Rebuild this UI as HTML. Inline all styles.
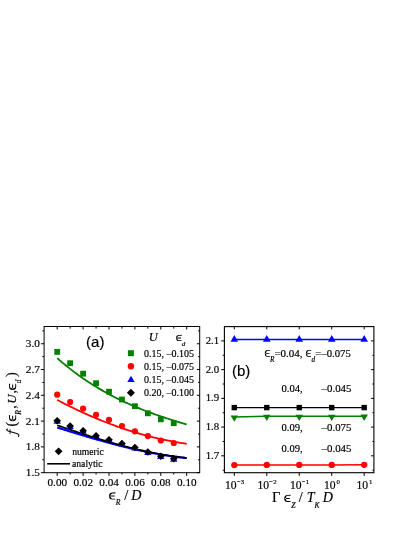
<!DOCTYPE html><html><head><meta charset="utf-8"><style>html,body{margin:0;padding:0;background:#fff;}svg{display:block;will-change:transform;opacity:0.999}text{font-family:"Liberation Serif",serif;fill:#000;stroke:#000;stroke-width:0.18px}.s{font-family:"Liberation Sans",sans-serif}.i{font-style:italic}</style></head><body>
<svg width="415" height="537" viewBox="0 0 415 537">
<rect width="415" height="537" fill="#fff"/>
<polyline points="57.20,427.47 58.50,427.88 59.79,428.29 61.09,428.70 62.38,429.11 63.68,429.51 64.97,429.92 66.27,430.32 67.56,430.73 68.86,431.13 70.15,431.53 71.45,431.93 72.74,432.33 74.03,432.73 75.33,433.12 76.62,433.52 77.92,433.91 79.22,434.31 80.51,434.70 81.81,435.09 83.10,435.47 84.40,435.86 85.69,436.25 86.98,436.63 88.28,437.01 89.58,437.39 90.87,437.77 92.16,438.14 93.46,438.52 94.75,438.89 96.05,439.26 97.34,439.63 98.64,440.00 99.94,440.36 101.23,440.73 102.53,441.09 103.82,441.44 105.12,441.80 106.41,442.15 107.71,442.51 109.00,442.86 110.30,443.20 111.59,443.55 112.89,443.89 114.18,444.23 115.47,444.57 116.77,444.90 118.06,445.24 119.36,445.57 120.66,445.89 121.95,446.22 123.25,446.54 124.54,446.86 125.84,447.17 127.13,447.49 128.43,447.80 129.72,448.11 131.01,448.41 132.31,448.71 133.61,449.01 134.90,449.31 136.19,449.60 137.49,449.89 138.78,450.17 140.08,450.46 141.38,450.74 142.67,451.01 143.97,451.29 145.26,451.55 146.56,451.82 147.85,452.08 149.15,452.34 150.44,452.60 151.74,452.85 153.03,453.10 154.32,453.34 155.62,453.59 156.92,453.82 158.21,454.06 159.50,454.29 160.80,454.51 162.10,454.74 163.39,454.95 164.69,455.17 165.98,455.38 167.28,455.58 168.57,455.79 169.87,455.98 171.16,456.18 172.45,456.37 173.75,456.55 175.05,456.74 176.34,456.91 177.63,457.09 178.93,457.25 180.23,457.42 181.52,457.58 182.81,457.73 184.11,457.88 185.41,458.03 186.70,458.17" fill="none" stroke="#0000ff" stroke-width="2.1" stroke-linecap="butt"/>
<polyline points="57.20,425.28 58.50,425.73 59.79,426.17 61.09,426.61 62.38,427.06 63.68,427.50 64.97,427.94 66.27,428.38 67.56,428.82 68.86,429.25 70.15,429.69 71.45,430.12 72.74,430.56 74.03,430.99 75.33,431.42 76.62,431.85 77.92,432.28 79.22,432.70 80.51,433.13 81.81,433.55 83.10,433.97 84.40,434.39 85.69,434.81 86.98,435.22 88.28,435.63 89.58,436.05 90.87,436.46 92.16,436.86 93.46,437.27 94.75,437.67 96.05,438.07 97.34,438.47 98.64,438.87 99.94,439.26 101.23,439.65 102.53,440.04 103.82,440.43 105.12,440.82 106.41,441.20 107.71,441.58 109.00,441.95 110.30,442.33 111.59,442.70 112.89,443.07 114.18,443.43 115.47,443.79 116.77,444.15 118.06,444.51 119.36,444.86 120.66,445.21 121.95,445.56 123.25,445.90 124.54,446.25 125.84,446.58 127.13,446.92 128.43,447.25 129.72,447.58 131.01,447.90 132.31,448.22 133.61,448.54 134.90,448.85 136.19,449.16 137.49,449.47 138.78,449.77 140.08,450.07 141.38,450.36 142.67,450.65 143.97,450.94 145.26,451.22 146.56,451.50 147.85,451.77 149.15,452.04 150.44,452.31 151.74,452.57 153.03,452.83 154.32,453.08 155.62,453.33 156.92,453.57 158.21,453.81 159.50,454.05 160.80,454.28 162.10,454.51 163.39,454.73 164.69,454.95 165.98,455.16 167.28,455.36 168.57,455.57 169.87,455.76 171.16,455.96 172.45,456.14 173.75,456.33 175.05,456.50 176.34,456.68 177.63,456.84 178.93,457.01 180.23,457.16 181.52,457.31 182.81,457.46 184.11,457.60 185.41,457.73 186.70,457.86" fill="none" stroke="#000" stroke-width="1.7" stroke-linecap="butt"/>
<polyline points="57.20,399.89 58.50,400.57 59.79,401.25 61.09,401.93 62.38,402.60 63.68,403.27 64.97,403.93 66.27,404.58 67.56,405.23 68.86,405.88 70.15,406.52 71.45,407.16 72.74,407.79 74.03,408.42 75.33,409.04 76.62,409.66 77.92,410.27 79.22,410.88 80.51,411.48 81.81,412.08 83.10,412.67 84.40,413.26 85.69,413.84 86.98,414.42 88.28,414.99 89.58,415.56 90.87,416.13 92.16,416.69 93.46,417.24 94.75,417.79 96.05,418.33 97.34,418.87 98.64,419.41 99.94,419.94 101.23,420.46 102.53,420.98 103.82,421.49 105.12,422.00 106.41,422.51 107.71,423.01 109.00,423.50 110.30,423.99 111.59,424.47 112.89,424.95 114.18,425.43 115.47,425.90 116.77,426.36 118.06,426.82 119.36,427.27 120.66,427.72 121.95,428.17 123.25,428.61 124.54,429.04 125.84,429.47 127.13,429.89 128.43,430.31 129.72,430.73 131.01,431.13 132.31,431.54 133.61,431.94 134.90,432.33 136.19,432.72 137.49,433.10 138.78,433.48 140.08,433.85 141.38,434.22 142.67,434.58 143.97,434.94 145.26,435.29 146.56,435.64 147.85,435.98 149.15,436.32 150.44,436.65 151.74,436.97 153.03,437.29 154.32,437.61 155.62,437.92 156.92,438.22 158.21,438.52 159.50,438.82 160.80,439.11 162.10,439.39 163.39,439.67 164.69,439.95 165.98,440.21 167.28,440.48 168.57,440.74 169.87,440.99 171.16,441.24 172.45,441.48 173.75,441.71 175.05,441.95 176.34,442.17 177.63,442.39 178.93,442.61 180.23,442.82 181.52,443.02 182.81,443.22 184.11,443.42 185.41,443.61 186.70,443.79" fill="none" stroke="#ff0000" stroke-width="1.8" stroke-linecap="butt"/>
<polyline points="57.20,358.16 58.50,359.29 59.79,360.41 61.09,361.51 62.38,362.60 63.68,363.68 64.97,364.75 66.27,365.80 67.56,366.84 68.86,367.87 70.15,368.88 71.45,369.89 72.74,370.88 74.03,371.86 75.33,372.83 76.62,373.78 77.92,374.73 79.22,375.66 80.51,376.58 81.81,377.49 83.10,378.39 84.40,379.28 85.69,380.16 86.98,381.02 88.28,381.88 89.58,382.73 90.87,383.56 92.16,384.39 93.46,385.20 94.75,386.00 96.05,386.80 97.34,387.58 98.64,388.36 99.94,389.12 101.23,389.88 102.53,390.63 103.82,391.36 105.12,392.09 106.41,392.81 107.71,393.52 109.00,394.22 110.30,394.91 111.59,395.60 112.89,396.27 114.18,396.94 115.47,397.60 116.77,398.25 118.06,398.89 119.36,399.53 120.66,400.15 121.95,400.77 123.25,401.38 124.54,401.99 125.84,402.59 127.13,403.18 128.43,403.76 129.72,404.33 131.01,404.90 132.31,405.46 133.61,406.02 134.90,406.57 136.19,407.11 137.49,407.65 138.78,408.18 140.08,408.70 141.38,409.22 142.67,409.73 143.97,410.24 145.26,410.74 146.56,411.23 147.85,411.72 149.15,412.21 150.44,412.69 151.74,413.16 153.03,413.63 154.32,414.09 155.62,414.55 156.92,415.01 158.21,415.46 159.50,415.91 160.80,416.35 162.10,416.79 163.39,417.22 164.69,417.65 165.98,418.08 167.28,418.50 168.57,418.92 169.87,419.34 171.16,419.75 172.45,420.16 173.75,420.56 175.05,420.97 176.34,421.37 177.63,421.77 178.93,422.16 180.23,422.55 181.52,422.94 182.81,423.33 184.11,423.72 185.41,424.10 186.70,424.48" fill="none" stroke="#008000" stroke-width="1.8" stroke-linecap="butt"/>
<path d="M57.20,417.50L60.90,423.70L53.50,423.70Z" fill="#0000ff"/>
<path d="M70.15,422.70L73.85,428.90L66.45,428.90Z" fill="#0000ff"/>
<path d="M83.10,427.50L86.80,433.70L79.40,433.70Z" fill="#0000ff"/>
<path d="M96.05,432.40L99.75,438.60L92.35,438.60Z" fill="#0000ff"/>
<path d="M109.00,436.40L112.70,442.60L105.30,442.60Z" fill="#0000ff"/>
<path d="M121.95,440.20L125.65,446.40L118.25,446.40Z" fill="#0000ff"/>
<path d="M134.90,444.20L138.60,450.40L131.20,450.40Z" fill="#0000ff"/>
<path d="M147.85,448.70L151.55,454.90L144.15,454.90Z" fill="#0000ff"/>
<path d="M160.80,452.90L164.50,459.10L157.10,459.10Z" fill="#0000ff"/>
<path d="M173.75,455.50L177.45,461.70L170.05,461.70Z" fill="#0000ff"/>
<rect x="54.30" y="349.00" width="5.8" height="5.8" fill="#008000"/>
<rect x="67.25" y="360.30" width="5.8" height="5.8" fill="#008000"/>
<rect x="80.20" y="370.80" width="5.8" height="5.8" fill="#008000"/>
<rect x="93.15" y="380.30" width="5.8" height="5.8" fill="#008000"/>
<rect x="106.10" y="388.80" width="5.8" height="5.8" fill="#008000"/>
<rect x="119.05" y="396.60" width="5.8" height="5.8" fill="#008000"/>
<rect x="132.00" y="403.30" width="5.8" height="5.8" fill="#008000"/>
<rect x="144.95" y="410.40" width="5.8" height="5.8" fill="#008000"/>
<rect x="157.90" y="416.40" width="5.8" height="5.8" fill="#008000"/>
<rect x="170.85" y="420.30" width="5.8" height="5.8" fill="#008000"/>
<circle cx="57.20" cy="394.70" r="3.1" fill="#ff0000"/>
<circle cx="70.15" cy="402.00" r="3.1" fill="#ff0000"/>
<circle cx="83.10" cy="408.50" r="3.1" fill="#ff0000"/>
<circle cx="96.05" cy="414.80" r="3.1" fill="#ff0000"/>
<circle cx="109.00" cy="419.80" r="3.1" fill="#ff0000"/>
<circle cx="121.95" cy="426.10" r="3.1" fill="#ff0000"/>
<circle cx="134.90" cy="431.30" r="3.1" fill="#ff0000"/>
<circle cx="147.85" cy="436.10" r="3.1" fill="#ff0000"/>
<circle cx="160.80" cy="440.50" r="3.1" fill="#ff0000"/>
<circle cx="173.75" cy="443.00" r="3.1" fill="#ff0000"/>
<path d="M57.20,417.00L61.00,420.80L57.20,424.60L53.40,420.80Z" fill="#000"/>
<path d="M70.15,422.20L73.95,426.00L70.15,429.80L66.35,426.00Z" fill="#000"/>
<path d="M83.10,427.00L86.90,430.80L83.10,434.60L79.30,430.80Z" fill="#000"/>
<path d="M96.05,431.90L99.85,435.70L96.05,439.50L92.25,435.70Z" fill="#000"/>
<path d="M109.00,435.90L112.80,439.70L109.00,443.50L105.20,439.70Z" fill="#000"/>
<path d="M121.95,439.70L125.75,443.50L121.95,447.30L118.15,443.50Z" fill="#000"/>
<path d="M134.90,443.70L138.70,447.50L134.90,451.30L131.10,447.50Z" fill="#000"/>
<path d="M147.85,448.20L151.65,452.00L147.85,455.80L144.05,452.00Z" fill="#000"/>
<path d="M160.80,452.40L164.60,456.20L160.80,460.00L157.00,456.20Z" fill="#000"/>
<path d="M173.75,455.00L177.55,458.80L173.75,462.60L169.95,458.80Z" fill="#000"/>
<rect x="44.1" y="326.5" width="155.6" height="146.2" fill="none" stroke="#000" stroke-width="1"/>
<path d="M57.20,472.7v3.2M57.20,326.5v3.0M70.15,472.7v1.8M70.15,326.5v2.1M83.10,472.7v3.2M83.10,326.5v3.0M96.05,472.7v1.8M96.05,326.5v2.1M109.00,472.7v3.2M109.00,326.5v3.0M121.95,472.7v1.8M121.95,326.5v2.1M134.90,472.7v3.2M134.90,326.5v3.0M147.85,472.7v1.8M147.85,326.5v2.1M160.80,472.7v3.2M160.80,326.5v3.0M173.75,472.7v1.8M173.75,326.5v2.1M186.70,472.7v3.2M186.70,326.5v3.0M44.1,472.68h-3.2M199.7,472.68h-2.8160000000000003M44.1,459.78h-1.8M199.7,459.78h-1.584M44.1,446.89h-3.2M199.7,446.89h-2.8160000000000003M44.1,434.00h-1.8M199.7,434.00h-1.584M44.1,421.11h-3.2M199.7,421.11h-2.8160000000000003M44.1,408.21h-1.8M199.7,408.21h-1.584M44.1,395.32h-3.2M199.7,395.32h-2.8160000000000003M44.1,382.43h-1.8M199.7,382.43h-1.584M44.1,369.53h-3.2M199.7,369.53h-2.8160000000000003M44.1,356.64h-1.8M199.7,356.64h-1.584M44.1,343.75h-3.2M199.7,343.75h-2.8160000000000003M44.1,330.86h-1.8M199.7,330.86h-1.584" stroke="#000" stroke-width="1" fill="none"/>
<text x="39.9" y="347.15" font-size="11.3" text-anchor="end">3.0</text>
<text x="39.9" y="372.93" font-size="11.3" text-anchor="end">2.7</text>
<text x="39.9" y="398.72" font-size="11.3" text-anchor="end">2.4</text>
<text x="39.9" y="424.50" font-size="11.3" text-anchor="end">2.1</text>
<text x="39.9" y="450.29" font-size="11.3" text-anchor="end">1.8</text>
<text x="39.9" y="476.07" font-size="11.3" text-anchor="end">1.5</text>
<text x="57.30" y="486.0" font-size="11.2" text-anchor="middle">0.00</text>
<text x="83.20" y="486.0" font-size="11.2" text-anchor="middle">0.02</text>
<text x="109.10" y="486.0" font-size="11.2" text-anchor="middle">0.04</text>
<text x="135.00" y="486.0" font-size="11.2" text-anchor="middle">0.06</text>
<text x="160.90" y="486.0" font-size="11.2" text-anchor="middle">0.08</text>
<text x="186.80" y="486.0" font-size="11.2" text-anchor="middle">0.10</text>
<g transform="translate(16.1,436.7) rotate(-90)">
<g transform="translate(2.1,0) scale(14,-14)" fill="none" stroke="#000" stroke-linecap="round"><path d="M0.405,0.615C0.40,0.69 0.30,0.70 0.265,0.57L0.085,-0.04C0.05,-0.17 -0.03,-0.235 -0.125,-0.175" stroke-width="0.075"/><path d="M0.06,0.43H0.36" stroke-width="0.06"/></g>
<text x="10.3" y="0" font-size="14">(</text>
<path d="M21.60,-7.15L18.62,-7.00A3.22,3.55 0 0 0 18.62,0.10L21.45,0.00V-0.85L18.62,-0.85A1.66,2.60 0 0 1 18.62,-6.05L21.60,-6.05ZM16.18,-3.95H20.86V-2.95H16.18Z" fill="#000"/>
<text class="i" x="22.0" y="5.3" font-size="7.6">R</text>
<text x="28.0" y="0" font-size="14">,</text>
<text class="i" x="32.9" y="0" font-size="13">U</text>
<text x="43.3" y="0" font-size="14">,</text>
<path d="M53.00,-7.15L50.02,-7.00A3.22,3.55 0 0 0 50.02,0.10L52.85,0.00V-0.85L50.02,-0.85A1.66,2.60 0 0 1 50.02,-6.05L53.00,-6.05ZM47.58,-3.95H52.26V-2.95H47.58Z" fill="#000"/>
<text class="i" x="53.5" y="5.3" font-size="7.2">d</text>
<text x="59.6" y="0" font-size="14">)</text>
</g>
<path d="M115.40,492.35L112.33,492.50A3.33,3.55 0 0 0 112.33,499.60L115.25,499.50V498.65L112.33,498.65A1.76,2.60 0 0 1 112.33,493.45L115.40,493.45ZM109.78,495.55H114.63V496.55H109.78Z" fill="#000"/>
<text class="i" x="115.8" y="504.9" font-size="7.6">R</text>
<text x="124.2" y="499.5" font-size="14.5">/</text>
<text class="i" x="131.2" y="499.5" font-size="14">D</text>
<text class="s" x="86.1" y="346.8" font-size="15" stroke-width="0.3">(a)</text>
<text class="i" x="148.8" y="341.2" font-size="12.5">U</text>
<path d="M181.80,334.75L179.02,334.90A3.02,3.10 0 0 0 179.02,341.10L181.65,341.00V340.32L179.02,340.32A1.73,2.32 0 0 1 179.02,335.68L181.80,335.68ZM176.64,337.59H181.10V338.41H176.64Z" fill="#000"/>
<text class="i" x="181.8" y="345.7" font-size="7">d</text>
<rect x="127.90" y="350.20" width="6.0" height="6.0" fill="#008000"/>
<circle cx="130.90" cy="366.30" r="3.2" fill="#ff0000"/>
<path d="M131.00,375.80L134.70,382.00L127.30,382.00Z" fill="#0000ff"/>
<path d="M130.90,388.80L134.90,392.80L130.90,396.80L126.90,392.80Z" fill="#000"/>
<text x="144.0" y="356.6" font-size="10.0" stroke-width="0.25" textLength="49.9" lengthAdjust="spacingAndGlyphs">0.15, –0.105</text>
<text x="144.0" y="369.90000000000003" font-size="10.0" stroke-width="0.25" textLength="49.9" lengthAdjust="spacingAndGlyphs">0.15, –0.075</text>
<text x="144.0" y="383.1" font-size="10.0" stroke-width="0.25" textLength="49.9" lengthAdjust="spacingAndGlyphs">0.15, –0.045</text>
<text x="144.0" y="396.40000000000003" font-size="10.0" stroke-width="0.25" textLength="49.9" lengthAdjust="spacingAndGlyphs">0.20, –0.100</text>
<path d="M58.60,447.40L62.50,451.30L58.60,455.20L54.70,451.30Z" fill="#000"/>
<text x="72.2" y="454.7" font-size="10" stroke-width="0.3" textLength="31.6" lengthAdjust="spacingAndGlyphs">numeric</text>
<path d="M47.2,463.8H70.0" stroke="#000" stroke-width="1.6"/>
<text x="72.0" y="467.0" font-size="10" stroke-width="0.3" textLength="30.6" lengthAdjust="spacingAndGlyphs">analytic</text>
<polyline points="234.30,339.40 266.78,339.40 299.25,339.40 331.73,339.40 364.20,339.40" fill="none" stroke="#0000ff" stroke-width="1.5"/>
<path d="M234.30,335.00L238.10,341.70L230.50,341.70Z" fill="#0000ff"/>
<path d="M266.78,335.00L270.58,341.70L262.98,341.70Z" fill="#0000ff"/>
<path d="M299.25,335.00L303.05,341.70L295.45,341.70Z" fill="#0000ff"/>
<path d="M331.73,335.00L335.53,341.70L327.93,341.70Z" fill="#0000ff"/>
<path d="M364.20,335.00L368.00,341.70L360.40,341.70Z" fill="#0000ff"/>
<polyline points="234.30,407.60 266.78,407.60 299.25,407.60 331.73,407.60 364.20,407.60" fill="none" stroke="#000" stroke-width="1.3"/>
<rect x="231.60" y="404.90" width="5.4" height="5.4" fill="#000"/>
<rect x="264.08" y="404.90" width="5.4" height="5.4" fill="#000"/>
<rect x="296.55" y="404.90" width="5.4" height="5.4" fill="#000"/>
<rect x="329.03" y="404.90" width="5.4" height="5.4" fill="#000"/>
<rect x="361.50" y="404.90" width="5.4" height="5.4" fill="#000"/>
<polyline points="234.30,417.00 266.78,416.30 299.25,416.30 331.73,416.30 364.20,416.20" fill="none" stroke="#008000" stroke-width="1.5"/>
<path d="M234.30,421.80L230.55,415.40L238.05,415.40Z" fill="#008000"/>
<path d="M266.78,421.10L263.03,414.70L270.53,414.70Z" fill="#008000"/>
<path d="M299.25,421.10L295.50,414.70L303.00,414.70Z" fill="#008000"/>
<path d="M331.73,421.10L327.98,414.70L335.48,414.70Z" fill="#008000"/>
<path d="M364.20,421.00L360.45,414.60L367.95,414.60Z" fill="#008000"/>
<polyline points="234.30,465.10 266.78,464.90 299.25,464.90 331.73,464.90 364.20,464.80" fill="none" stroke="#ff0000" stroke-width="1.5"/>
<circle cx="234.30" cy="465.10" r="3.15" fill="#ff0000"/>
<circle cx="266.78" cy="464.90" r="3.15" fill="#ff0000"/>
<circle cx="299.25" cy="464.90" r="3.15" fill="#ff0000"/>
<circle cx="331.73" cy="464.90" r="3.15" fill="#ff0000"/>
<circle cx="364.20" cy="464.80" r="3.15" fill="#ff0000"/>
<rect x="224.4" y="326.6" width="149.49999999999997" height="146.09999999999997" fill="none" stroke="#000" stroke-width="1.1"/>
<path d="M234.30,472.7v3.2M234.30,326.6v2.8M266.78,472.7v3.2M266.78,326.6v2.8M299.25,472.7v3.2M299.25,326.6v2.8M331.73,472.7v3.2M331.73,326.6v2.8M364.20,472.7v3.2M364.20,326.6v2.8M224.4,470.19h-1.7M373.9,470.19h-1.496M224.4,455.82h-3.2M373.9,455.82h-2.8160000000000003M224.4,441.46h-1.7M373.9,441.46h-1.496M224.4,427.09h-3.2M373.9,427.09h-2.8160000000000003M224.4,412.73h-1.7M373.9,412.73h-1.496M224.4,398.36h-3.2M373.9,398.36h-2.8160000000000003M224.4,384.00h-1.7M373.9,384.00h-1.496M224.4,369.63h-3.2M373.9,369.63h-2.8160000000000003M224.4,355.27h-1.7M373.9,355.27h-1.496M224.4,340.90h-3.2M373.9,340.90h-2.8160000000000003" stroke="#000" stroke-width="1" fill="none"/>
<text x="219.20000000000002" y="343.80" font-size="11.3" text-anchor="end" textLength="13.5" lengthAdjust="spacingAndGlyphs">2.1</text>
<text x="219.20000000000002" y="372.53" font-size="11.3" text-anchor="end" textLength="13.5" lengthAdjust="spacingAndGlyphs">2.0</text>
<text x="219.20000000000002" y="401.26" font-size="11.3" text-anchor="end" textLength="13.5" lengthAdjust="spacingAndGlyphs">1.9</text>
<text x="219.20000000000002" y="429.99" font-size="11.3" text-anchor="end" textLength="13.5" lengthAdjust="spacingAndGlyphs">1.8</text>
<text x="219.20000000000002" y="458.72" font-size="11.3" text-anchor="end" textLength="13.5" lengthAdjust="spacingAndGlyphs">1.7</text>
<text x="225.00" y="489.2" font-size="11.6">10<tspan font-size="6.8" dy="-4.8" dx="0.3">−3</tspan></text>
<text x="257.48" y="489.2" font-size="11.6">10<tspan font-size="6.8" dy="-4.8" dx="0.3">−2</tspan></text>
<text x="289.95" y="489.2" font-size="11.6">10<tspan font-size="6.8" dy="-4.8" dx="0.3">−1</tspan></text>
<text x="324.03" y="489.2" font-size="11.6">10<tspan font-size="6.8" dy="-4.8" dx="0.8">0</tspan></text>
<text x="356.50" y="489.2" font-size="11.6">10<tspan font-size="6.8" dy="-4.8" dx="0.8">1</tspan></text>
<text class="s" x="232" y="376.1" font-size="15" stroke-width="0.3">(b)</text>
<path d="M270.10,349.95L267.56,350.10A2.76,3.45 0 0 0 267.56,357.00L269.95,356.90V356.25L267.56,356.25A1.52,2.70 0 0 1 267.56,350.85L270.10,350.85ZM265.42,353.15H269.46V353.95H265.42Z" fill="#000"/>
<text class="i" x="270.1" y="361.6" font-size="7.2">R</text>
<text x="274.4" y="356.5" font-size="10.6" textLength="28.2" lengthAdjust="spacingAndGlyphs">=0.04,</text>
<path d="M311.20,349.95L308.66,350.10A2.76,3.45 0 0 0 308.66,357.00L311.05,356.90V356.25L308.66,356.25A1.52,2.70 0 0 1 308.66,350.85L311.20,350.85ZM306.52,353.15H310.56V353.95H306.52Z" fill="#000"/>
<text class="i" x="311.5" y="361.6" font-size="7.2">d</text>
<text x="315.3" y="356.5" font-size="10.6" textLength="35.5" lengthAdjust="spacingAndGlyphs">=–0.075</text>
<text x="281.5" y="391.6" font-size="10.6">0.04,</text>
<text x="321.6" y="391.6" font-size="10.6" textLength="29.8" lengthAdjust="spacingAndGlyphs">–0.045</text>
<text x="281.5" y="431.4" font-size="10.6">0.09,</text>
<text x="321.6" y="431.4" font-size="10.6" textLength="29.8" lengthAdjust="spacingAndGlyphs">–0.075</text>
<text x="281.5" y="452.0" font-size="10.6">0.09,</text>
<text x="321.6" y="452.0" font-size="10.6" textLength="29.8" lengthAdjust="spacingAndGlyphs">–0.045</text>
<text x="272.0" y="501.9" font-size="14.5">Γ</text>
<path d="M290.60,494.75L287.53,494.90A3.33,3.55 0 0 0 287.53,502.00L290.45,501.90V501.05L287.53,501.05A1.76,2.60 0 0 1 287.53,495.85L290.60,495.85ZM284.98,497.95H289.83V498.95H284.98Z" fill="#000"/>
<text class="i" x="291.3" y="508.2" font-size="7.6">Z</text>
<text x="298.8" y="501.9" font-size="14.5">/</text>
<text class="i" x="306.8" y="501.9" font-size="14">T</text>
<text class="i" x="314.6" y="508.2" font-size="7.6">K</text>
<text class="i" x="322.8" y="501.9" font-size="14">D</text>
</svg></body></html>
